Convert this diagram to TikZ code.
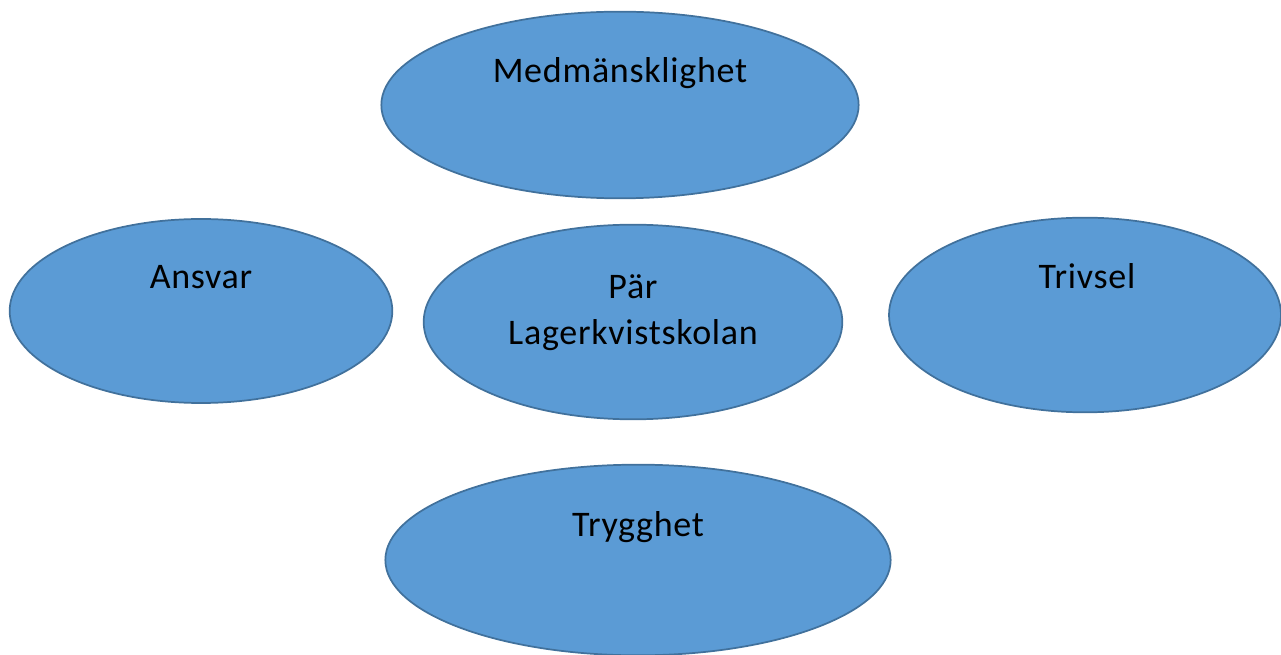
\documentclass[tikz,border=0pt]{standalone}
\usepackage{fontspec}
\setmainfont{Carlito}[LetterSpace=2]
\usetikzlibrary{shapes.geometric}
\definecolor{bubblefill}{HTML}{5B9BD5}
\definecolor{bubbleedge}{HTML}{41719C}

\begin{document}
\begin{tikzpicture}[x=0.75pt,y=-0.75pt,
  bubble/.style={ellipse, draw=bubbleedge, fill=bubblefill, line width=1.3pt, inner sep=0pt},
  word/.style={anchor=base, font=\fontsize{27}{35}\selectfont, align=center}]

\useasboundingbox (0,0) rectangle (1281,655);

% Ellipses
\node[bubble, minimum width=358pt, minimum height=140pt] (medm) at (620,105) {};
\node[bubble, minimum width=287pt, minimum height=138pt] (ansvar) at (201,311) {};
\node[bubble, minimum width=314pt, minimum height=146pt] (skolan) at (633,322) {};
\node[bubble, minimum width=294pt, minimum height=146pt] (trivsel) at (1085,315) {};
\node[bubble, minimum width=379pt, minimum height=143pt] (trygghet) at (638,560) {};

% Texts
\node[word] (medmText) at (620,83) {Medmänsklighet};
\node[word] (ansvarText) at (201,289) {Ansvar};
\node[word] (skolanText) at (633,345) {Pär\\Lagerkvistskolan};
\node[word] (trivselText) at (1087,289) {Trivsel};
\node[word] (trygghetText) at (638,537) {Trygghet};

\end{tikzpicture}
\end{document}
